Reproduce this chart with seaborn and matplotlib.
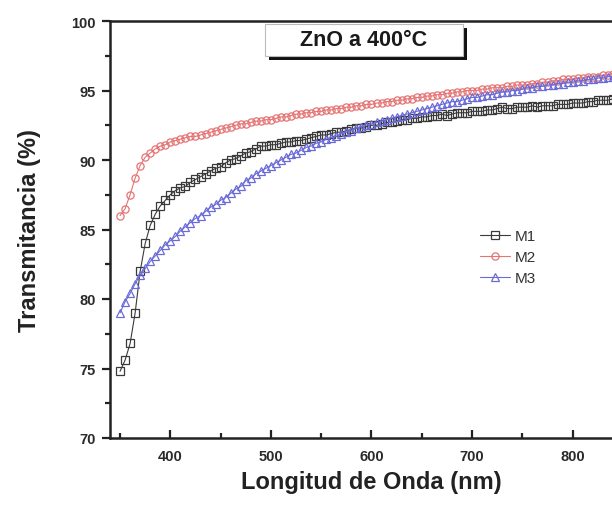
import numpy as np
import pandas as pd
import seaborn as sns
import matplotlib.pyplot as plt
from matplotlib.patches import Rectangle
from matplotlib.ticker import MultipleLocator

# wavelength grid (nm), 5 nm steps
wavelength = list(range(350, 850, 5))

m1 = [74.8, 75.6, 76.8, 79.0, 82.0, 84.0, 85.3, 86.1, 86.7, 87.1,
      87.5, 87.8, 88.0, 88.1, 88.4, 88.6, 88.8, 89.0, 89.2, 89.4,
      89.5, 89.8, 90.0, 90.1, 90.3, 90.5, 90.6, 90.8, 91.0, 91.0,
      91.1, 91.1, 91.2, 91.3, 91.3, 91.4, 91.4, 91.5, 91.6, 91.7,
      91.8, 91.8, 91.9, 92.0, 92.0, 92.1, 92.2, 92.3, 92.3, 92.4,
      92.5, 92.5, 92.6, 92.7, 92.7, 92.8, 92.9, 92.9, 93.0, 93.0,
      93.1, 93.1, 93.2, 93.2, 93.3, 93.2, 93.3, 93.4, 93.4, 93.4,
      93.5, 93.5, 93.5, 93.6, 93.6, 93.7, 93.8, 93.7, 93.7, 93.8,
      93.8, 93.8, 93.9, 93.8, 93.9, 93.9, 93.9, 94.0, 94.0, 94.0,
      94.1, 94.1, 94.1, 94.2, 94.2, 94.3, 94.3, 94.3, 94.4, 94.4]

m2 = [86.0, 86.5, 87.5, 88.7, 89.6, 90.2, 90.5, 90.8, 91.0, 91.1,
      91.3, 91.4, 91.5, 91.6, 91.7, 91.7, 91.8, 91.9, 92.0, 92.1,
      92.2, 92.3, 92.4, 92.5, 92.6, 92.6, 92.7, 92.8, 92.8, 92.9,
      92.9, 93.0, 93.1, 93.1, 93.2, 93.3, 93.3, 93.4, 93.4, 93.5,
      93.5, 93.6, 93.6, 93.7, 93.7, 93.8, 93.8, 93.9, 93.9, 94.0,
      94.0, 94.1, 94.1, 94.2, 94.2, 94.3, 94.3, 94.4, 94.4, 94.5,
      94.5, 94.6, 94.6, 94.7, 94.7, 94.8, 94.8, 94.9, 94.9, 95.0,
      95.0, 95.0, 95.1, 95.1, 95.2, 95.2, 95.2, 95.3, 95.3, 95.4,
      95.4, 95.4, 95.5, 95.5, 95.6, 95.6, 95.7, 95.7, 95.8, 95.8,
      95.8, 95.9, 95.9, 96.0, 96.0, 96.0, 96.1, 96.1, 96.2, 96.2]

m3 = [79.0, 79.8, 80.4, 81.1, 81.7, 82.2, 82.7, 83.1, 83.5, 83.9,
      84.2, 84.5, 84.9, 85.2, 85.5, 85.8, 86.0, 86.3, 86.6, 86.8,
      87.1, 87.3, 87.6, 87.9, 88.1, 88.5, 88.7, 89.0, 89.2, 89.4,
      89.6, 89.8, 90.0, 90.2, 90.4, 90.5, 90.7, 90.9, 91.0, 91.2,
      91.3, 91.5, 91.6, 91.7, 91.9, 92.0, 92.1, 92.3, 92.4, 92.5,
      92.6, 92.7, 92.8, 92.9, 93.0, 93.1, 93.2, 93.3, 93.4, 93.5,
      93.6, 93.7, 93.8, 93.9, 94.0, 94.1, 94.2, 94.2, 94.3, 94.4,
      94.5, 94.5, 94.6, 94.7, 94.7, 94.8, 94.9, 94.9, 95.0, 95.0,
      95.1, 95.2, 95.2, 95.3, 95.3, 95.4, 95.4, 95.5, 95.5, 95.6,
      95.6, 95.7, 95.7, 95.8, 95.8, 95.9, 95.9, 96.0, 96.0, 96.1]

sample_names = ["M1", "M2", "M3"]
colors = {"M1": "#3a3a3a", "M2": "#e57373", "M3": "#6b6bd8"}
markers = {"M1": "s", "M2": "o", "M3": "^"}

df = pd.DataFrame({
    "wavelength": wavelength * 3,
    "T": m1 + m2 + m3,
    "sample": ["M1"] * len(m1) + ["M2"] * len(m2) + ["M3"] * len(m3),
})

sns.set_style("ticks")
plt.rcParams['font.family'] = ['Liberation Sans', 'DejaVu Sans']

fig = plt.figure(figsize=(6.12, 5.06), dpi=100)
# axes run past the right edge of the picture, like the cropped original
ax = fig.add_axes([110 / 612, 67 / 506, 523 / 612, 417 / 506])

for name in sample_names:
    sub = df[df["sample"] == name]
    sns.lineplot(data=sub, x="wavelength", y="T", ax=ax, color=colors[name],
                 marker=markers[name], markersize=5.2, markerfacecolor="none",
                 markeredgecolor=colors[name], markeredgewidth=0.9,
                 linewidth=0.8, estimator=None, sort=False, label=name)

ax.set_xlim(340, 860)
ax.set_ylim(70, 100)
ax.xaxis.set_major_locator(MultipleLocator(100))
ax.xaxis.set_minor_locator(MultipleLocator(50))
ax.yaxis.set_major_locator(MultipleLocator(5))
ax.yaxis.set_minor_locator(MultipleLocator(2.5))

for s in ["left", "bottom", "top"]:
    ax.spines[s].set_linewidth(1.8)
    ax.spines[s].set_color("#222222")
ax.spines["right"].set_visible(False)

ax.tick_params(axis="y", which="both", direction="out", width=1.6, color="#222222")
ax.tick_params(axis="y", which="major", length=6, pad=4)
ax.tick_params(axis="y", which="minor", length=3.5)
ax.tick_params(axis="x", which="both", direction="in", width=1.6, color="#222222")
ax.tick_params(axis="x", which="major", length=6, pad=8)
ax.tick_params(axis="x", which="minor", length=3.5)
ax.tick_params(axis="both", labelsize=10.5, labelcolor="#2a2a2a")
for lab in ax.get_xticklabels() + ax.get_yticklabels():
    lab.set_fontweight("bold")

ax.set_xlabel("Longitud de Onda (nm)", fontsize=17, fontweight="bold",
              color="#222222", labelpad=5)
ax.set_ylabel("Transmitancia (%)", fontsize=17, fontweight="bold",
              color="#222222", labelpad=22)

leg = ax.legend(loc="upper left", bbox_to_anchor=(0.695, 0.515), frameon=False,
                fontsize=11, handlelength=2.0, handletextpad=0.3,
                labelspacing=0.45, borderaxespad=0)
for t in leg.get_texts():
    t.set_color("#333333")

# title box with Origin-like drop shadow
bx0, by0, bw, bh = (265 - 110) / 523, 1 - (57 - 22) / 417, 198 / 523, 32 / 417
dx, dy = 4 / 523, -4 / 417
ax.add_patch(Rectangle((bx0 + dx, by0 + dy), bw, bh, transform=ax.transAxes,
                       facecolor="#111111", edgecolor="none", zorder=5,
                       clip_on=False))
ax.add_patch(Rectangle((bx0, by0), bw, bh, transform=ax.transAxes,
                       facecolor="white", edgecolor="#bbbbbb", linewidth=0.8,
                       zorder=6, clip_on=False))
ax.text(bx0 + bw / 2, by0 + bh / 2, "ZnO a 400°C", transform=ax.transAxes,
        ha="center", va="center", fontsize=15.5, fontweight="bold",
        color="#1a1a1a", zorder=7)

fig.savefig("out.png", dpi=100)
